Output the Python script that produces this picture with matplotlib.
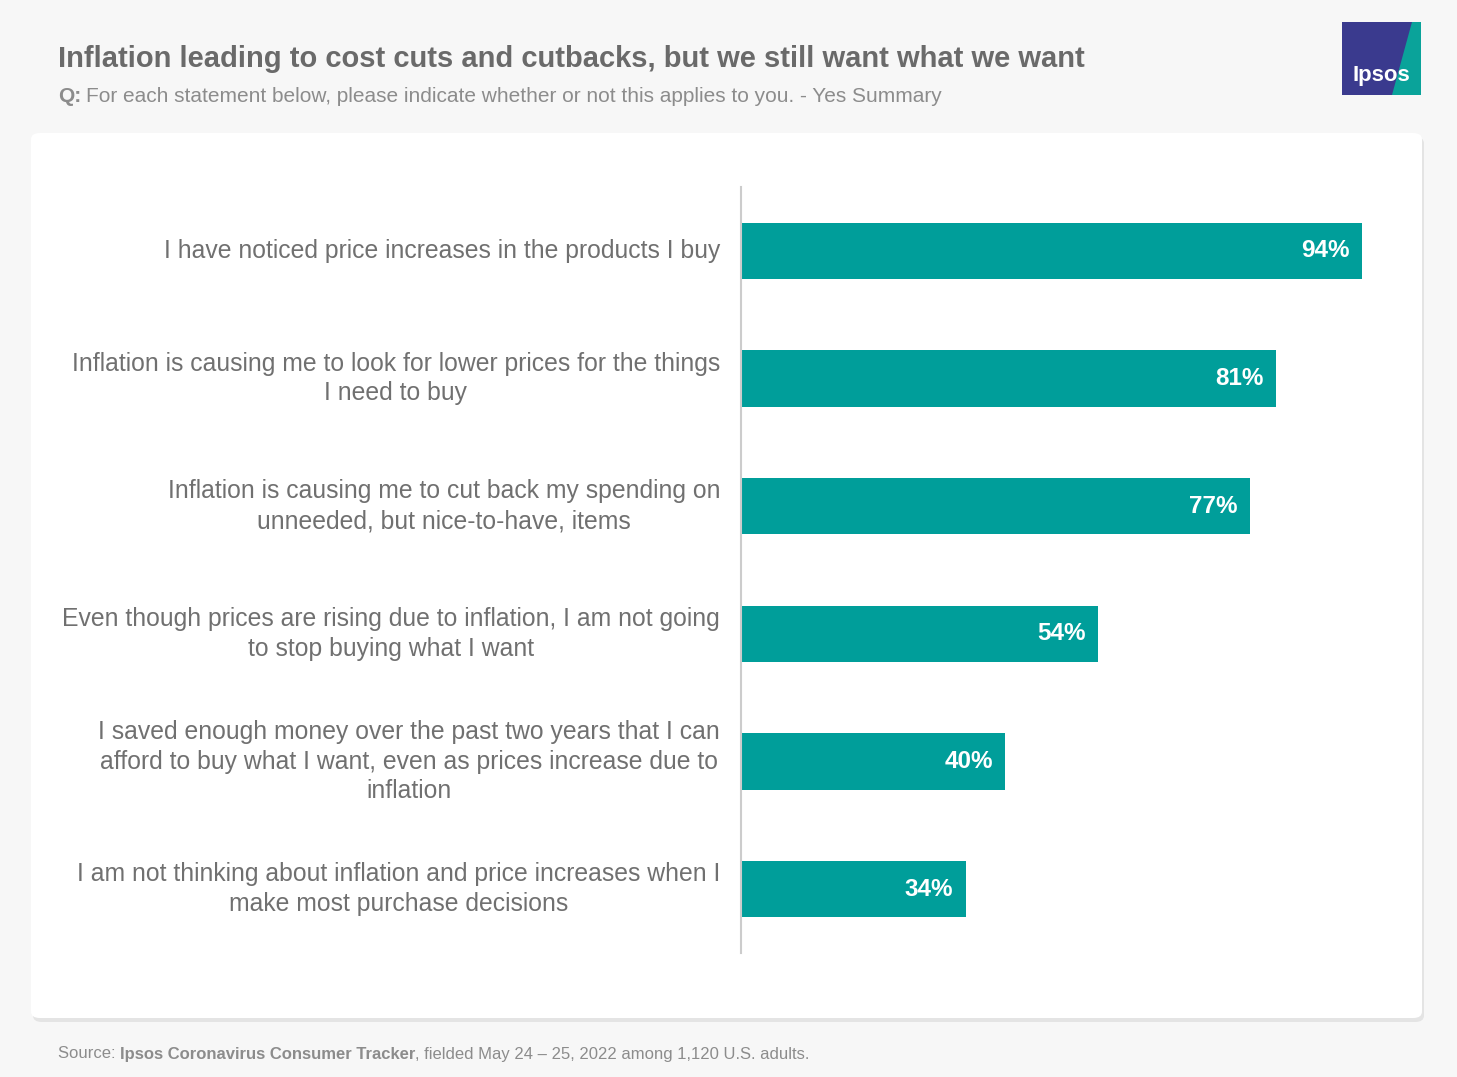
import matplotlib
matplotlib.use("Agg")
import matplotlib.pyplot as plt
from matplotlib.patches import FancyBboxPatch, Rectangle, Polygon

plt.rcParams["font.family"] = "Liberation Sans"

labels = [
    "I have noticed price increases in the products I buy",
    "Inflation is causing me to look for lower prices for the things\nI need to buy",
    "Inflation is causing me to cut back my spending on\nunneeded, but nice-to-have, items",
    "Even though prices are rising due to inflation, I am not going\nto stop buying what I want",
    "I saved enough money over the past two years that I can\nafford to buy what I want, even as prices increase due to\ninflation",
    "I am not thinking about inflation and price increases when I\nmake most purchase decisions",
]
values = [94, 81, 77, 54, 40, 34]

W, H = 1457, 1077
fig = plt.figure(figsize=(W/100, H/100), dpi=100)
fig.patch.set_facecolor("#f7f7f7")

def fx(x): return x / W
def fy(y): return 1 - y / H

shadow = FancyBboxPatch((fx(33), fy(1022)), fx(1424) - fx(33), fy(137) - fy(1022),
                        boxstyle="round,pad=0,rounding_size=0.006", transform=fig.transFigure,
                        facecolor="#e4e4e4", edgecolor="none", zorder=-3)
card = FancyBboxPatch((fx(31), fy(1018)), fx(1422) - fx(31), fy(133) - fy(1018),
                      boxstyle="round,pad=0,rounding_size=0.006", transform=fig.transFigure,
                      facecolor="white", edgecolor="none", zorder=-2)
fig.patches.extend([shadow, card])

fig.text(fx(58), fy(59), "Inflation leading to cost cuts and cutbacks, but we still want what we want",
         fontsize=21, fontweight="bold", color="#6a6a6a", va="center", ha="left")
fig.text(fx(58), fy(96), "Q:", fontsize=15, fontweight="bold", color="#8c8c8c", va="center", ha="left")
fig.text(fx(86), fy(96), "For each statement below, please indicate whether or not this applies to you. - Yes Summary",
         fontsize=15, color="#8c8c8c", va="center", ha="left")

renderer = fig.canvas.get_renderer()
parts = [("Source: ", "normal"), ("Ipsos Coronavirus Consumer Tracker", "bold"),
         (", fielded May 24 \u2013 25, 2022 among 1,120 U.S. adults.", "normal")]
x = 58
for s, w in parts:
    t = fig.text(fx(x), fy(1054), s, fontsize=12, fontweight=w, color="#8c8c8c", va="center", ha="left")
    x += t.get_window_extent(renderer).width

fig.patches.append(Rectangle((fx(1342), fy(95)), fx(1421) - fx(1342), fy(22) - fy(95),
                             transform=fig.transFigure, facecolor="#3a3a8e", edgecolor="none"))
fig.patches.append(Polygon([(fx(1392), fy(95)), (fx(1421), fy(95)), (fx(1421), fy(22)), (fx(1412), fy(22))],
                           transform=fig.transFigure, facecolor="#0aa39a", edgecolor="none"))
fig.text(fx(1381), fy(76), "Ipsos", fontsize=16, fontweight="bold", color="white", ha="center", va="center")

ax = fig.add_axes([fx(741), fy(953), fx(1402) - fx(741), fy(187) - fy(953)])
ax.set_facecolor("none")
y = list(range(len(values)))
ax.barh(y, values, height=0.44, color="#009e9a")
for yi, v in zip(y, values):
    ax.text(v - 1.9, yi, f"{v}%", color="white", fontweight="bold", fontsize=17.5,
            ha="right", va="center")
    ax.text(-21 / 6.61, yi, labels[yi], fontsize=17.8, color="#707070", ha="right",
            multialignment="center", va="center", linespacing=1.3)
ax.set_xlim(0, 100)
ax.set_ylim(5.5, -0.5)
ax.set_yticks([])
ax.set_xticks([])
for s in ["top", "right", "bottom"]:
    ax.spines[s].set_visible(False)
ax.spines["left"].set_color("#cccccc")
ax.spines["left"].set_linewidth(1.5)

fig.savefig("out.png", dpi=100, facecolor=fig.get_facecolor())
